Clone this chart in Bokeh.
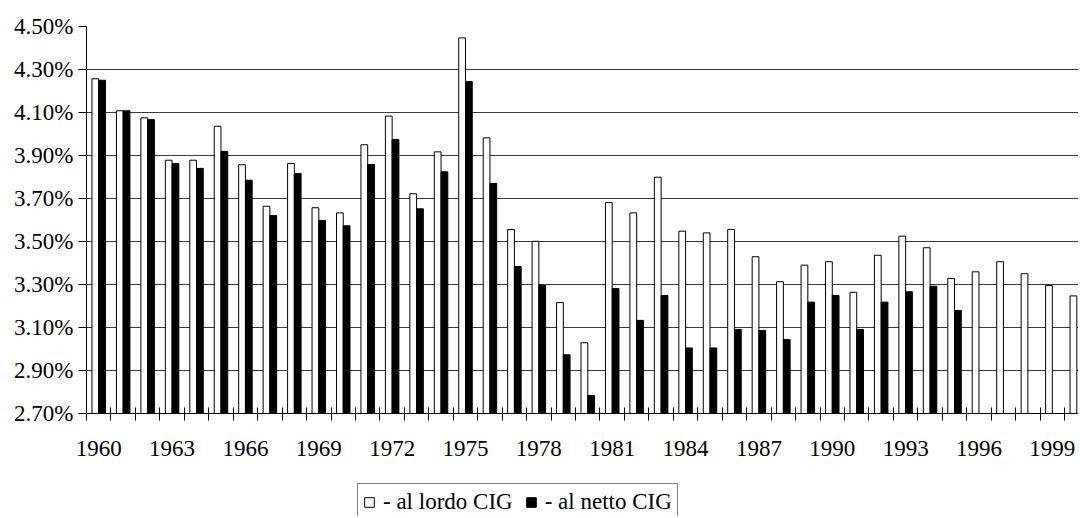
from bokeh.plotting import figure
from bokeh.layouts import column
from bokeh.models import (ColumnDataSource, FixedTicker, PrintfTickFormatter,
                          Range1d, Legend, LegendItem)
from bokeh.transform import dodge
from bokeh.embed import file_html
from bokeh.resources import INLINE

# ---- data -------------------------------------------------------------
years = list(range(1960, 2001))
lordo = [4.257, 4.108, 4.075, 3.878, 3.878, 4.036, 3.857, 3.664, 3.863, 3.657,
         3.633, 3.950, 4.083, 3.722, 3.917, 4.447, 3.982, 3.556, 3.501, 3.216,
         3.029, 3.681, 3.633, 3.799, 3.548, 3.540, 3.556, 3.429, 3.313, 3.390,
         3.406, 3.264, 3.436, 3.525, 3.471, 3.328, 3.359, 3.406, 3.350, 3.295,
         3.247]
netto_years = list(range(1960, 1996))
netto = [4.250, 4.108, 4.067, 3.863, 3.840, 3.919, 3.785, 3.621, 3.816, 3.598,
         3.573, 3.858, 3.974, 3.652, 3.824, 4.244, 3.770, 3.384, 3.297, 2.973,
         2.784, 3.281, 3.133, 3.249, 3.005, 3.005, 3.091, 3.086, 3.044, 3.218,
         3.249, 3.091, 3.218, 3.266, 3.292, 3.179]
year_labels = [1960, 1963, 1966, 1969, 1972, 1975, 1978, 1981, 1984, 1987,
               1990, 1993, 1996, 1999]
y_ticks = [2.70, 2.90, 3.10, 3.30, 3.50, 3.70, 3.90, 4.10, 4.30, 4.50]
series_names = ["- al lordo CIG", "- al netto CIG"]

# ---- main figure ------------------------------------------------------
FONT = "Liberation Serif"
FS = "23px"
BAR_W = 0.276
W = 1078

p = figure(width=W, height=470, output_backend="svg", toolbar_location=None,
           x_range=Range1d(1959.5, 2000.07), y_range=Range1d(2.70, 4.50),
           min_border_left=86, min_border_right=0, min_border_top=26,
           min_border_bottom=57)
p.outline_line_color = None

src_l = ColumnDataSource(dict(year=years, v=lordo))
src_n = ColumnDataSource(dict(year=netto_years, v=netto))

p.vbar(x=dodge("year", -BAR_W / 2), top="v", bottom=2.70, width=BAR_W,
       source=src_l, fill_color="white", line_color="black", line_width=1)
p.vbar(x=dodge("year", BAR_W / 2), top="v", bottom=2.70, width=BAR_W,
       source=src_n, fill_color="black", line_color="black", line_width=1)

p.xgrid.grid_line_color = None
p.ygrid.ticker = FixedTicker(ticks=y_ticks)
p.ygrid.grid_line_color = "#3a3a3a"
p.ygrid.grid_line_width = 1
p.ygrid.level = "underlay"

ya = p.yaxis[0]
ya.ticker = FixedTicker(ticks=y_ticks)
ya.formatter = PrintfTickFormatter(format="%.2f%%")
ya.axis_line_color = "black"
ya.major_tick_line_color = "black"
ya.major_tick_in = 0
ya.major_tick_out = 8
ya.minor_tick_line_color = None
ya.major_label_text_font = FONT
ya.major_label_text_font_size = FS
ya.major_label_text_color = "black"
ya.major_label_standoff = 5

xa = p.xaxis[0]
xa.ticker = FixedTicker(ticks=year_labels,
                        minor_ticks=[y - 0.5 for y in years] + [years[-1] + 0.5])
xa.axis_line_color = "black"
xa.major_tick_line_color = None
xa.major_tick_in = 0
xa.major_tick_out = 8
xa.minor_tick_line_color = "black"
xa.minor_tick_in = 6
xa.minor_tick_out = 7
xa.major_label_text_font = FONT
xa.major_label_text_font_size = FS
xa.major_label_text_color = "black"
xa.major_label_standoff = 19

# ---- legend strip -----------------------------------------------------
q = figure(width=W, height=46, output_backend="svg", toolbar_location=None,
           x_range=Range1d(0, W), y_range=Range1d(0, 46),
           x_axis_location=None, y_axis_location=None,
           min_border=0, min_border_left=0, min_border_right=0,
           min_border_top=0, min_border_bottom=0)
q.outline_line_color = None
q.xgrid.grid_line_color = None
q.ygrid.grid_line_color = None
# off-range placeholder glyphs, used only to draw the legend swatches
dummy = ColumnDataSource(dict(x=[-1000], top=[-1000]))
d1 = q.vbar(x="x", top="top", width=1, source=dummy,
            fill_color="white", line_color="black", line_width=1)
d2 = q.vbar(x="x", top="top", width=1, source=dummy,
            fill_color="black", line_color="black", line_width=1)

legend = Legend(items=[LegendItem(label=series_names[0], renderers=[d1]),
                       LegendItem(label=series_names[1], renderers=[d2])],
                orientation="horizontal", location=(271, -5), margin=0)
legend.label_text_font = FONT
legend.label_text_font_size = FS
legend.label_text_color = "black"
legend.glyph_width = 12
legend.glyph_height = 12
legend.label_standoff = 8
legend.spacing = 12
legend.padding = 5
legend.border_line_color = "black"
legend.border_line_width = 1
legend.background_fill_alpha = 1
legend.background_fill_color = "white"
q.add_layout(legend, "center")

layout = column(p, q, spacing=0)
open("out.html", "w").write(file_html(layout, INLINE))
